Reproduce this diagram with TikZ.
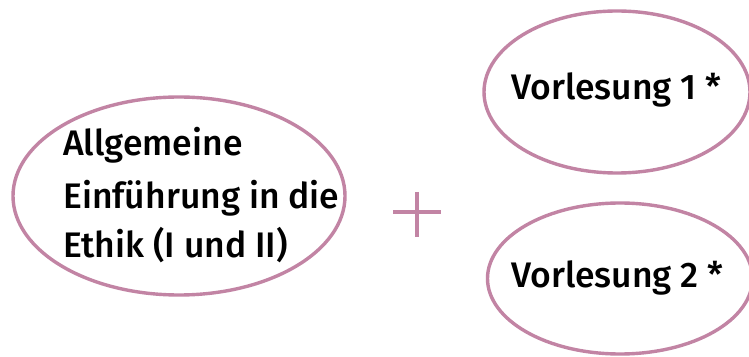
\documentclass[tikz,border=0pt]{standalone}
\usepackage{fontspec}
\setmainfont{Fira Sans Medium}
\usetikzlibrary{shapes.geometric}
\definecolor{mauve}{RGB}{194,132,164}
\tikzset{
  oval/.style={draw=mauve, line width=3.4pt, ellipse, inner sep=0pt},
  lbl/.style={anchor=base west, inner sep=0pt, font=\fontsize{35.5}{35.5}\selectfont},
  plusbar/.style={draw=mauve, line width=3.2pt}
}
\begin{document}
\begin{tikzpicture}[x=1pt,y=1pt]
\useasboundingbox (0,0) rectangle (749,356);
\clip (0,0) rectangle (749,356);
\fill[white] (0,0) rectangle (749,356);
\node[oval, minimum width=332pt, minimum height=198pt] (gen) at (179,160) {};
\node[oval, minimum width=266pt, minimum height=162pt] (v1) at (617,264) {};
\node[oval, minimum width=265pt, minimum height=151pt] (v2) at (620,77.5) {};
\node[lbl] (t1) at (63,200) {Allgemeine};
\node[lbl] (t2) at (63,147) {Einführung in die};
\node[lbl] (t3) at (63,98) {Ethik (I und II)};
\node[lbl] (t4) at (511,256) {Vorlesung 1 *};
\node[lbl] (t5) at (511,68) {Vorlesung 2 *};
\coordinate (pc) at (417,144);
\draw[plusbar] ([xshift=-24pt]pc) -- ([xshift=24pt]pc);
\draw[plusbar] ([yshift=20pt]pc) -- ([yshift=-25pt]pc);
\end{tikzpicture}
\end{document}
